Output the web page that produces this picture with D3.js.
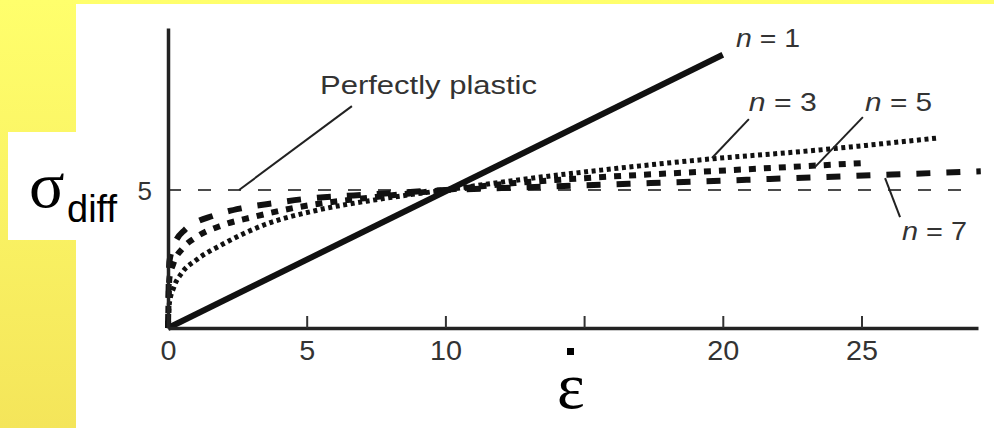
<!DOCTYPE html>
<html>
<head>
<meta charset="utf-8">
<script src="https://cdn.jsdelivr.net/npm/d3@7"></script>
<style>
body { margin: 0; overflow: hidden; }
svg { display: block; }
</style>
</head>
<body>
<script>
// values: strain rate (x) vs differential stress (y)
const n1Strain = [0, 20];
const n1Stress = [0, 9.9];
const n3Strain = [0, 0.05, 0.2, 0.5, 1, 2, 3.5, 5.3, 7.5, 10, 12.5, 15.6, 19.5, 22.8, 27.7];
const n3Stress = [0, 0.9, 1.45, 2.0, 2.45, 3.05, 3.75, 4.25, 4.65, 5.0, 5.35, 5.72, 6.12, 6.39, 6.88];
const n5Strain = [0, 0.05, 0.2, 0.54, 0.97, 1.98, 3.06, 4.7, 7.5, 10, 12.5, 15, 19.2, 25.1];
const n5Stress = [0, 1.8, 2.35, 2.9, 3.26, 3.73, 4.02, 4.38, 4.75, 5.0, 5.25, 5.43, 5.66, 5.98];
const n7Strain = [0, 0.05, 0.2, 0.6, 1.7, 2.7, 3.86, 4.87, 7.5, 10, 13, 17.4, 21.7, 26.1, 29.3];
const n7Stress = [0, 2.4, 2.95, 3.55, 4.09, 4.35, 4.53, 4.67, 4.85, 5.0, 5.1, 5.25, 5.4, 5.56, 5.68];
const plasticStrain = [0, 28.8];
const plasticStress = [5, 5];

const xTicks = [0, 5, 10, 15, 20, 25];
const xTickLabels = ["0", "5", "10", "", "20", "25"];
const yTicks = [5];

// curve labels and their leader lines, in data units
const labelNames = ["Perfectly plastic", "n = 1", "n = 3", "n = 5", "n = 7"];
const labelAt = [[5.48, 8.48], [20.48, 10.18], [20.94, 7.86], [25.13, 7.86], [26.46, 3.19]];
const labelWidth = [217, 64, 68, 67, 65];
const leaders = [
	[[6.63, 8.04], [2.56, 5.0]],
	[[20.94, 7.57], [19.61, 6.16]],
	[[25.05, 7.64], [23.32, 5.83]],
	[[25.85, 5.43], [26.39, 4.02]]
];

var width = 994, height = 428;
var svg = d3.select("body").append("svg")
	.attr("width", width)
	.attr("height", height);

var defs = svg.append("defs");
var grad = defs.append("linearGradient")
	.attr("id", "bg")
	.attr("x1", 0).attr("y1", 0).attr("x2", 0).attr("y2", 1);
grad.append("stop").attr("offset", "0%").attr("stop-color", "#ffff6c");
grad.append("stop").attr("offset", "100%").attr("stop-color", "#f4e55a");

svg.append("rect")
	.attr("width", width)
	.attr("height", height)
	.attr("fill", "url(#bg)");
// white panels
svg.append("rect")
	.attr("x", 76).attr("y", 4)
	.attr("width", width - 76).attr("height", height - 4)
	.attr("fill", "#fff");
svg.append("rect")
	.attr("x", 8).attr("y", 132)
	.attr("width", 70).attr("height", 108)
	.attr("fill", "#fff");

var x = d3.scaleLinear()
	.domain([0, 29.2])
	.range([168, 978]);
var y = d3.scaleLinear()
	.domain([0, 10.87])
	.range([328, 28]);

var line = d3.line()
	.x(d => x(d[0]))
	.y(d => y(d[1]))
	.curve(d3.curveMonotoneX);

var series = [
	{xs: plasticStrain, ys: plasticStress, w: 1.6, dash: "13,17"},
	{xs: n7Strain, ys: n7Stress, w: 6, dash: "14,16"},
	{xs: n5Strain, ys: n5Stress, w: 6, dash: "7,8"},
	{xs: n3Strain, ys: n3Stress, w: 5, dash: "4,3.6"},
	{xs: n1Strain, ys: n1Stress, w: 6, dash: null}
];

svg.selectAll(".curve")
	.data(series)
	.enter().append("path")
		.attr("class", "curve")
		.attr("d", s => line(s.xs.map((v, i) => [v, s.ys[i]])))
		.attr("fill", "none")
		.attr("stroke", "#111")
		.attr("stroke-width", s => s.w)
		.attr("stroke-dasharray", s => s.dash);

// x axis
var gx = svg.append("g")
	.attr("transform", "translate(0," + y(0) + ")")
	.call(d3.axisBottom(x)
		.tickValues(xTicks)
		.tickSizeInner(-12)
		.tickSizeOuter(0)
		.tickFormat((d, i) => xTickLabels[i]));
gx.select(".domain").attr("stroke", "#222").attr("stroke-width", 3.5);
gx.selectAll(".tick line").attr("stroke", "#333").attr("stroke-width", 2);
gx.selectAll(".tick text")
	.attr("y", 32)
	.attr("dy", null)
	.attr("fill", "#333")
	.attr("font-family", "Liberation Sans, Arial, sans-serif")
	.attr("font-size", 27)
	.attr("textLength", (d, i) => xTickLabels[i].length * 16)
	.attr("lengthAdjust", "spacingAndGlyphs");

// y axis
var gy = svg.append("g")
	.attr("transform", "translate(" + x(0) + ",0)")
	.call(d3.axisLeft(y)
		.tickValues(yTicks)
		.tickSize(0)
		.tickPadding(16));
gy.select(".domain").attr("stroke", "#222").attr("stroke-width", 3.5);
gy.selectAll(".tick text")
	.attr("dy", "0.36em")
	.attr("fill", "#333")
	.attr("font-family", "Liberation Sans, Arial, sans-serif")
	.attr("font-size", 26);

// leader lines
svg.selectAll(".leader")
	.data(leaders)
	.enter().append("line")
		.attr("class", "leader")
		.attr("x1", d => x(d[0][0]))
		.attr("y1", d => y(d[0][1]))
		.attr("x2", d => x(d[1][0]))
		.attr("y2", d => y(d[1][1]))
		.attr("stroke", "#222")
		.attr("stroke-width", 2);

// curve labels
var labels = svg.selectAll(".label")
	.data(labelNames)
	.enter().append("text")
		.attr("class", "label")
		.attr("x", (d, i) => x(labelAt[i][0]))
		.attr("y", (d, i) => y(labelAt[i][1]))
		.attr("fill", "#333")
		.attr("font-family", "Liberation Sans, Arial, sans-serif")
		.attr("font-size", 26)
		.attr("textLength", (d, i) => labelWidth[i])
		.attr("lengthAdjust", "spacingAndGlyphs");
labels.each(function(d) {
	var t = d3.select(this);
	if (d.startsWith("n =")) {
		t.append("tspan").attr("font-style", "italic").text("n");
		t.append("tspan").text(d.slice(1));
	} else {
		t.text(d);
	}
});

// axis titles
var yTitle = svg.append("text")
	.attr("x", 29)
	.attr("y", 207)
	.attr("fill", "#000");
yTitle.append("tspan")
	.attr("font-family", "Liberation Serif, Times New Roman, serif")
	.attr("font-size", 66)
	.text("σ");
yTitle.append("tspan")
	.attr("x", 67)
	.attr("y", 222)
	.attr("font-family", "Liberation Sans, Arial, sans-serif")
	.attr("font-size", 38)
	.text("diff");

svg.append("rect")
	.attr("x", 567).attr("y", 348)
	.attr("width", 7).attr("height", 7)
	.attr("fill", "#000");
svg.append("text")
	.attr("x", 557)
	.attr("y", 408)
	.attr("fill", "#000")
	.attr("font-family", "Liberation Serif, Times New Roman, serif")
	.attr("font-size", 66)
	.text("ε");
</script>
</body>
</html>
